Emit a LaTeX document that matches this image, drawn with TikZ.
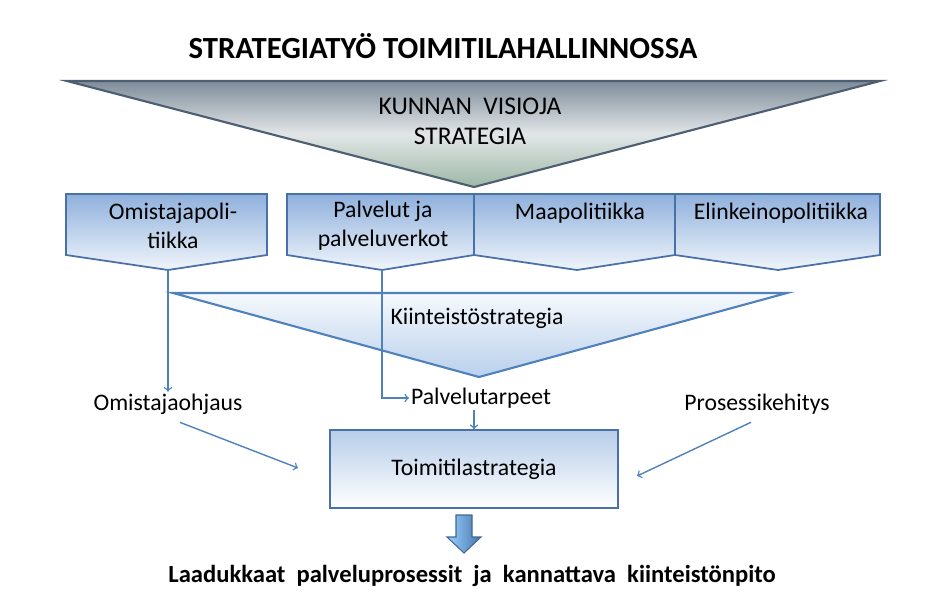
\documentclass[tikz,border=0pt]{standalone}
\usepackage{fontspec}
\setmainfont{Carlito}

\definecolor{viiva}{HTML}{4F81BD}
\definecolor{reuna}{HTML}{4A70A8}
\definecolor{harmaa}{HTML}{4E5E72}
\definecolor{laatylä}{HTML}{8FB0DC}
\definecolor{laatala}{HTML}{F0F5FB}

\tikzset{
  laatikko/.style={draw=reuna, line width=1pt, top color=laatylä, bottom color=laatala},
  teksti/.style={font=\fontsize{13.5}{16.5}\selectfont, align=center, inner sep=1pt},
  yhteys/.style={->, draw=viiva, line width=0.8pt}
}

\begin{document}
\begin{tikzpicture}[x=0.02cm,y=-0.02cm]
\useasboundingbox (0,0) rectangle (936,606);

\node[font=\bfseries\fontsize{17.5}{20}\selectfont] (otsikko) at (443,46) {STRATEGIATYÖ TOIMITILAHALLINNOSSA};

% kunnan visio
\draw [draw=harmaa, line width=1.2pt, top color={rgb,255:red,127;green,140;blue,154}, bottom color={rgb,255:red,157;green,184;blue,166}, middle color={rgb,255:red,226;green,230;blue,232}]
  (67,81) -- (880,81) -- (474,187) -- cycle;
\node[teksti, font=\fontsize{14.5}{17}\selectfont] (visio) at (470,121) {KUNNAN\ \ VISIOJA\\STRATEGIA};

% politiikat
\draw [laatikko] (66,194) -- (267,194) -- (267,255) -- (168,270) -- (66,255) -- cycle;
\draw [laatikko] (287,194) -- (474,194) -- (474,255) -- (382,270) -- (287,255) -- cycle;
\draw [laatikko] (474,194) -- (675,194) -- (675,255) -- (577,270) -- (474,255) -- cycle;
\draw [laatikko] (675,194) -- (880,194) -- (880,255) -- (778,270) -- (675,255) -- cycle;
\coordinate (omkarki) at (168,270);
\coordinate (palkarki) at (382,270);

\node[teksti] (omistaja) at (173,226) {Omistajapoli-\\tiikka};
\node[teksti] (palvelut) at (383,226) {Palvelut ja\\palveluverkot};
\node[teksti] (maa) at (580,213) {Maapolitiikka};
\node[teksti] (elinkeino) at (781,213) {Elinkeinopolitiikka};

% kiinteistostrategia
\draw [draw=viiva, line width=1.2pt, top color={rgb,255:red,246;green,249;blue,252}, bottom color={rgb,255:red,185;green,208;blue,236}]
  (173,293) -- (787,293) -- (479,377) -- cycle;
\node[teksti] (kiinteisto) at (477,318) {Kiinteistöstrategia};

\node[teksti] (ohjaus) at (168,404) {Omistajaohjaus};
\node[teksti] (tarpeet) at (481,398) {Palvelutarpeet};
\node[teksti] (prosessi) at (757,404) {Prosessikehitys};

% toimitilastrategia
\node[draw=reuna, line width=1pt, top color={rgb,255:red,183;green,205;blue,233}, bottom color=white,
  minimum width=288*0.02cm, minimum height=78*0.02cm, teksti] (toimitila) at (474,469) {Toimitilastrategia};

\coordinate (ohjloppu) at (298,468);
\coordinate (prosloppu) at (637,476);

\draw [yhteys] (omkarki) -- (omkarki |- ohjaus.north);
\draw [yhteys] (palkarki) |- (tarpeet.west);
\draw [yhteys] (tarpeet.south -| toimitila.north) -- (toimitila.north);
\draw [yhteys] (ohjaus.south) ++(12,6) -- (ohjloppu);
\draw [yhteys] (prosessi.south) ++(-6,6) -- (prosloppu);

% nuoli alas
\draw [draw=viiva!80!black, line width=0.6pt, left color=blue!45!cyan!40!white, right color=viiva!90!black]
  (456,515) -- (472,515) -- (472,537) -- (481,537) -- (464,553) -- (447,537) -- (456,537) -- cycle;

\node[font=\bfseries\fontsize{14}{16}\selectfont] (tulos) at (472,576) {Laadukkaat\ \ palveluprosessit\ \ ja\ \ kannattava\ \ kiinteistönpito};
\end{tikzpicture}
\end{document}
